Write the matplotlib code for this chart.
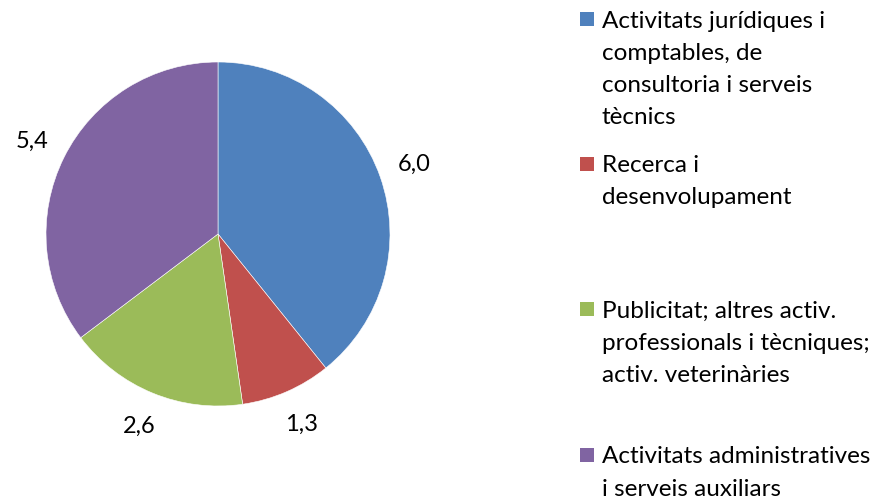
import matplotlib.pyplot as plt
import numpy as np
from matplotlib.patches import Rectangle

###############################################################################
# Data
categories = [
    "Activitats jurídiques i\ncomptables, de\nconsultoria i serveis\ntècnics",
    "Recerca i\ndesenvolupament",
    "Publicitat; altres activ.\nprofessionals i tècniques;\nactiv. veterinàries",
    "Activitats administratives\ni serveis auxiliars",
]
values = [6.0, 1.3, 2.6, 5.4]
value_labels = ["6,0", "1,3", "2,6", "5,4"]
colors = ["#4F81BD", "#C0504D", "#9BBB59", "#8064A2"]

###############################################################################
# Plot
W, H = 879, 499
plt.rcParams['font.family'] = ['Lato', 'DejaVu Sans']
fig = plt.figure(figsize=(W / 100, H / 100), dpi=100)

# pie centre (218, 234) px, radius 172 px
cx, cy, r = 218, 234, 172
ax = fig.add_axes([(cx - r) / W, (H - cy - r) / H, 2 * r / W, 2 * r / H])
wedges, _ = ax.pie(values, colors=colors, startangle=90, counterclock=False,
                   wedgeprops=dict(edgecolor='white', linewidth=0.4))
ax.set_xlim(-1, 1)
ax.set_ylim(-1, 1)
ax.set_aspect('equal')
ax.axis('off')

# value labels outside the slices
for w, lab in zip(wedges, value_labels):
    theta = np.deg2rad((w.theta1 + w.theta2) / 2)
    ax.text(1.21 * np.cos(theta), 1.21 * np.sin(theta), lab,
            ha='center', va='center', fontsize=17, color='black')

# legend drawn by hand (Excel spreads the entries unevenly)
first_baselines = [27, 172, 317, 463]
line_step = 32.5
for lab, col, yb in zip(categories, colors, first_baselines):
    nlines = lab.count("\n") + 1
    y_last = yb + (nlines - 1) * line_step
    fig.text(602 / W, 1 - y_last / H, lab, ha='left', va='baseline',
             fontsize=17.5, linespacing=1.66, color='black')
    fig.patches.append(Rectangle((580 / W, 1 - (yb - 1) / H), 14 / W, 14 / H,
                                 transform=fig.transFigure,
                                 facecolor=col, edgecolor='none'))

fig.savefig("out.png", dpi=100)
